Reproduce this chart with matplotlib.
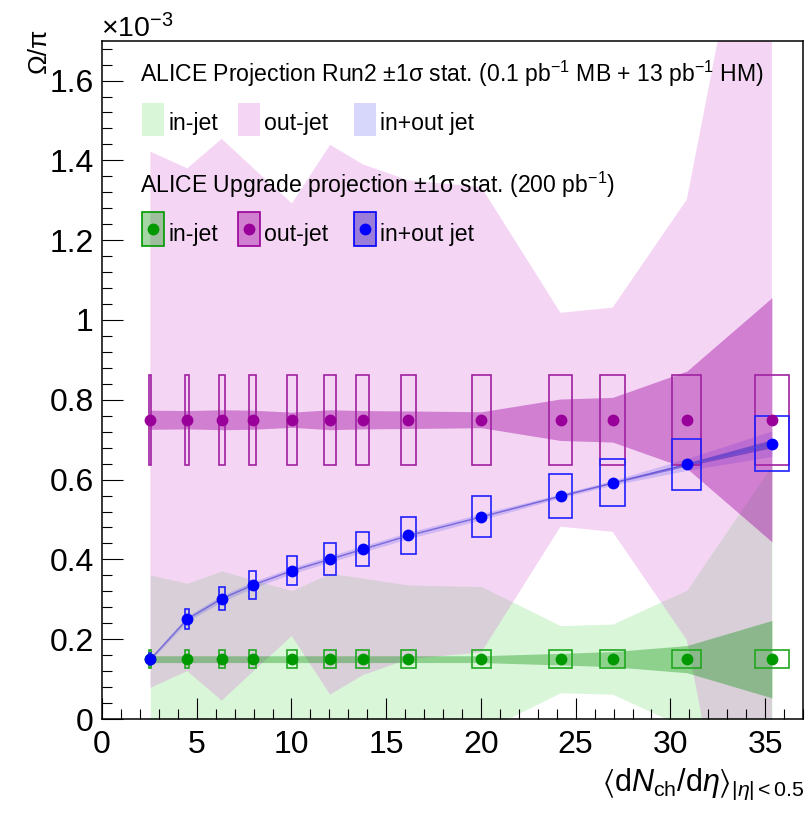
import numpy as np
import matplotlib.pyplot as plt
from matplotlib.patches import Rectangle
from matplotlib.ticker import MultipleLocator, FuncFormatter

plt.rcParams['font.family'] = ['Liberation Sans', 'DejaVu Sans']
plt.rcParams['mathtext.fontset'] = 'custom'
plt.rcParams['mathtext.rm'] = 'Liberation Sans'
plt.rcParams['mathtext.it'] = 'Liberation Sans:italic'
plt.rcParams['mathtext.bf'] = 'Liberation Sans:bold'
plt.rcParams['mathtext.fallback'] = 'stixsans'

# multiplicity classes <dNch/deta>
dndeta = [2.55, 4.50, 6.32, 7.95, 10.02, 12.04, 13.77, 16.17, 20.02, 24.20, 26.95, 30.87, 35.36]
dndeta_err = [0.06, 0.11, 0.16, 0.20, 0.25, 0.30, 0.34, 0.40, 0.50, 0.61, 0.67, 0.77, 0.88]

# Omega/pi yields (x 1e-3)
in_jet = [0.15, 0.15, 0.15, 0.15, 0.15, 0.15, 0.15, 0.15, 0.15, 0.15, 0.15, 0.15, 0.15]
out_jet = [0.75, 0.75, 0.75, 0.75, 0.75, 0.75, 0.75, 0.75, 0.75, 0.75, 0.75, 0.75, 0.75]
inout_jet = [0.150, 0.251, 0.302, 0.336, 0.372, 0.401, 0.426, 0.460, 0.507, 0.559, 0.592, 0.638, 0.690]

# systematic uncertainties (half height of boxes)
in_jet_sys = [0.0225, 0.0225, 0.0225, 0.0225, 0.0225, 0.0225, 0.0225, 0.0225, 0.0225, 0.0225, 0.0225, 0.0225, 0.0225]
out_jet_sys = [0.1125, 0.1125, 0.1125, 0.1125, 0.1125, 0.1125, 0.1125, 0.1125, 0.1125, 0.1125, 0.1125, 0.1125, 0.1125]
inout_jet_sys = [0.015, 0.025, 0.030, 0.034, 0.037, 0.040, 0.043, 0.046, 0.051, 0.056, 0.059, 0.064, 0.069]

# Run2 projection, 1 sigma stat.
run2_in = [0.211, 0.190, 0.221, 0.199, 0.172, 0.215, 0.203, 0.186, 0.182, 0.084, 0.088, 0.173, 0.486]
run2_out = [0.672, 0.630, 0.704, 0.632, 0.542, 0.689, 0.640, 0.600, 0.583, 0.268, 0.281, 0.552, 1.650]
run2_inout = [0.004, 0.007, 0.008, 0.008, 0.008, 0.008, 0.008, 0.008, 0.008, 0.005, 0.006, 0.015, 0.032]

# Upgrade projection, 1 sigma stat.
upg_in = [0.0085, 0.0085, 0.0085, 0.0085, 0.0085, 0.0085, 0.0085, 0.0085, 0.0085, 0.0145, 0.019, 0.034, 0.097]
upg_out = [0.024, 0.023, 0.025, 0.024, 0.019, 0.025, 0.023, 0.022, 0.020, 0.052, 0.056, 0.122, 0.306]
upg_inout = [0.0008, 0.0008, 0.0008, 0.0008, 0.0008, 0.0008, 0.0008, 0.0008, 0.0008, 0.0012, 0.0015, 0.004, 0.010]

x = np.array(dndeta)
xe = np.array(dndeta_err)

c_in, c_out, c_inout = '#009900', '#990099', '#0000ff'
run2_style = {
    'in': dict(color=(0.0, 0.78, 0.0), alpha=0.15, lw=0),
    'out': dict(color=(0.835, 0.33, 0.835), alpha=0.24, lw=0),
    'inout': dict(color=(0.3, 0.3, 0.95), alpha=0.22, lw=0),
}
upg_style = {
    'in': dict(color=(0.0, 0.55, 0.0), alpha=0.35, lw=0),
    'out': dict(color=(0.62, 0.0, 0.62), alpha=0.4, lw=0),
    'inout': dict(color=(0.25, 0.15, 0.75), alpha=0.5, lw=0),
}

fig = plt.figure(figsize=(8.09, 8.13), dpi=100)
ax = fig.add_axes([0.1261, 0.1156, 0.9926 - 0.1261, 0.95 - 0.1156])

# Run2 bands
for y, e, key in [(in_jet, run2_in, 'in'), (out_jet, run2_out, 'out'), (inout_jet, run2_inout, 'inout')]:
    y = np.array(y); e = np.array(e)
    ax.fill_between(x, y - e, y + e, **run2_style[key])

# Upgrade bands
for y, e, key in [(in_jet, upg_in, 'in'), (out_jet, upg_out, 'out'), (inout_jet, upg_inout, 'inout')]:
    y = np.array(y); e = np.array(e)
    ax.fill_between(x, y - e, y + e, **upg_style[key])
ax.plot(x, inout_jet, color=(0.35, 0.3, 0.85), lw=0.8, alpha=0.7)

# systematic boxes
for y, s, col in [(in_jet, in_jet_sys, '#20a820'), (out_jet, out_jet_sys, '#a020a0'), (inout_jet, inout_jet_sys, '#2020ff')]:
    for xi, xei, yi, si in zip(x, xe, y, s):
        ax.add_patch(Rectangle((xi - xei, yi - si), 2 * xei, 2 * si, fill=False,
                               edgecolor=col, lw=1.2))

# points
for y, col in [(in_jet, c_in), (out_jet, c_out), (inout_jet, c_inout)]:
    ax.plot(x, y, 'o', color=col, ms=8.5, mec='none')

ax.set_xlim(0, 37)
ax.set_ylim(0, 1.7)
ax.xaxis.set_major_locator(MultipleLocator(5))
ax.xaxis.set_minor_locator(MultipleLocator(1))
ax.yaxis.set_major_locator(MultipleLocator(0.2))
ax.yaxis.set_minor_locator(MultipleLocator(0.04))
ax.yaxis.set_major_formatter(FuncFormatter(lambda v, p: '0' if abs(v) < 1e-9 else '%g' % v))
ax.tick_params(which='both', direction='in', top=False, right=False, width=0.8, color='black')
ax.tick_params(which='major', length=15, labelsize=23)
ax.tick_params(which='minor', length=7.5)
ax.tick_params(axis='y', pad=6)
ax.tick_params(axis='x', pad=8)
for sp in ax.spines.values():
    sp.set_linewidth(1.1)

W, H = 809, 813
fig.text(101 / W, 1 - 37 / H, r'$\times10^{-3}$', fontsize=20.5, ha='left', va='baseline')
fig.text(39 / W, 1 - 28 / H, 'Ω/π', fontsize=19, rotation=90, ha='center', va='top')
fig.text(805 / W, 1 - 791 / H, r'$\langle$d$N_{\mathrm{ch}}$/d$\eta\rangle_{|\eta|<0.5}$',
         fontsize=22, ha='right', va='baseline')

# legend
def px(xp, yp):
    return xp / W, 1 - yp / H

fs = 16.6
fig.text(*px(140, 82), r'ALICE Projection Run2 $\pm$1σ stat. (0.1 pb$^{-1}$ MB + 13 pb$^{-1}$ HM)',
         fontsize=fs, ha='left', va='baseline')
fig.text(*px(140, 193), r'ALICE Upgrade projection $\pm$1σ stat. (200 pb$^{-1}$)',
         fontsize=fs, ha='left', va='baseline')
labels = ['in-jet', 'out-jet', 'in+out jet']
swatch_x = [142, 238, 354]
for i, key in enumerate(['in', 'out', 'inout']):
    x0, y0 = px(swatch_x[i], 136)
    fig.patches.append(Rectangle((x0, y0), 22 / W, 33 / H, transform=fig.transFigure,
                                 facecolor=run2_style[key]['color'], alpha=run2_style[key]['alpha'], lw=0))
    fig.text(*px(swatch_x[i] + 26, 130), labels[i], fontsize=fs, ha='left', va='baseline')
    x1, y1 = px(swatch_x[i], 246)
    fig.patches.append(Rectangle((x1, y1), 22 / W, 34 / H, transform=fig.transFigure,
                                 facecolor=upg_style[key]['color'], alpha=upg_style[key]['alpha'], lw=0))
    col = [c_in, c_out, c_inout][i]
    fig.patches.append(Rectangle((x1, y1), 22 / W, 34 / H, transform=fig.transFigure,
                                 fill=False, edgecolor=col, lw=1.2))
    fig.lines.append(plt.Line2D([(swatch_x[i] + 11) / W], [1 - 229 / H], marker='o', color=col,
                                ms=8.5, mec='none', transform=fig.transFigure))
    fig.text(*px(swatch_x[i] + 26, 241), labels[i], fontsize=fs, ha='left', va='baseline')

fig.savefig('out.png', dpi=100)
